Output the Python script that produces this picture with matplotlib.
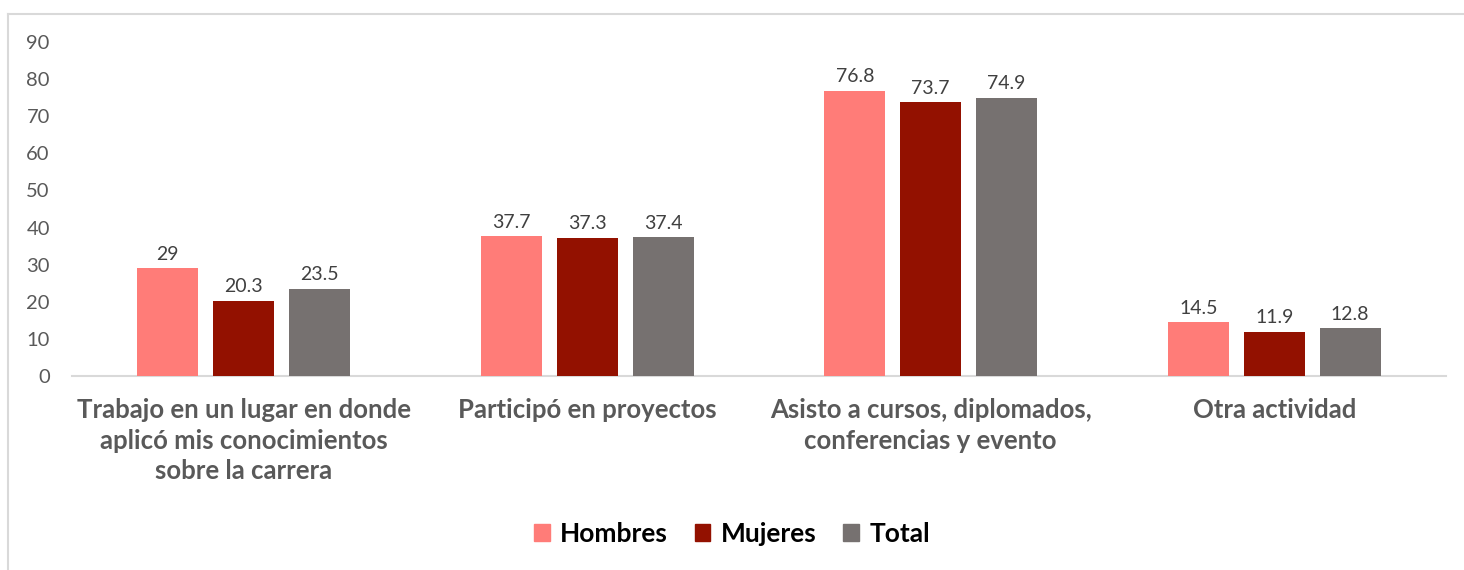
import matplotlib
matplotlib.use("Agg")
import matplotlib.pyplot as plt
import numpy as np
from matplotlib.lines import Line2D

categories = ["Trabajo en un lugar en donde\naplicó mis conocimientos\nsobre la carrera",
              "Participó en proyectos",
              "Asisto a cursos, diplomados,\nconferencias y evento",
              "Otra actividad"]
series_names = ["Hombres", "Mujeres", "Total"]
hombres = [29, 37.7, 76.8, 14.5]
mujeres = [20.3, 37.3, 73.7, 11.9]
total = [23.5, 37.4, 74.9, 12.8]
value_labels = [["29", "37.7", "76.8", "14.5"],
                ["20.3", "37.3", "73.7", "11.9"],
                ["23.5", "37.4", "74.9", "12.8"]]
yticks = [0, 10, 20, 30, 40, 50, 60, 70, 80, 90]

colors = ["#FF7C78", "#931100", "#767170"]
font = "Lato"
plt.rcParams['font.family'] = [font, 'DejaVu Sans']

fig = plt.figure(figsize=(14.64, 5.7), dpi=100)
ax = fig.add_axes([72/1464, 1-376/570, (1446-72)/1464, (376-42)/570])

x = np.arange(len(categories))
w = 0.178
step = 0.221
data = [hombres, mujeres, total]
for i, (vals, c) in enumerate(zip(data, colors)):
    xs = x + (i-1)*step
    ax.bar(xs, vals, width=w, color=c, label=series_names[i], zorder=3)
    for xi, v, lab in zip(xs, vals, value_labels[i]):
        ax.annotate(lab, (xi, v), xytext=(0, 4), textcoords="offset points",
                    ha="center", va="bottom", fontsize=14, color="#404040")

ax.set_xlim(-0.5, 3.5)
ax.set_ylim(0, 90)
ax.set_yticks(yticks)
ax.set_xticks(x)
ax.set_xticklabels(categories, fontsize=18.5, fontweight="bold", color="#595959",
                   linespacing=1.32)
for s in ["top", "right", "left"]:
    ax.spines[s].set_visible(False)
ax.spines["bottom"].set_color("#D9D9D9")
ax.spines["bottom"].set_linewidth(1.5)
ax.tick_params(axis="y", length=0, labelsize=14.5, labelcolor="#595959", pad=16)
ax.tick_params(axis="x", length=0, pad=16)

handles = [plt.Rectangle((0, 0), 1, 1, color=c) for c in colors]
fig.legend(handles, series_names, loc="center", bbox_to_anchor=(0.5, 1-534/570),
           ncol=3, frameon=False, prop={"weight": "bold", "size": 19},
           handlelength=0.6, handleheight=0.6, handletextpad=0.4, columnspacing=1.0)

fig.add_artist(Line2D([8/1464, 1.0], [1-14/570, 1-14/570], color="#D9D9D9", lw=1.5,
                      transform=fig.transFigure))
fig.add_artist(Line2D([8/1464, 8/1464], [0, 1-14/570], color="#D9D9D9", lw=1.5,
                      transform=fig.transFigure))

fig.savefig("out.png", dpi=100)
